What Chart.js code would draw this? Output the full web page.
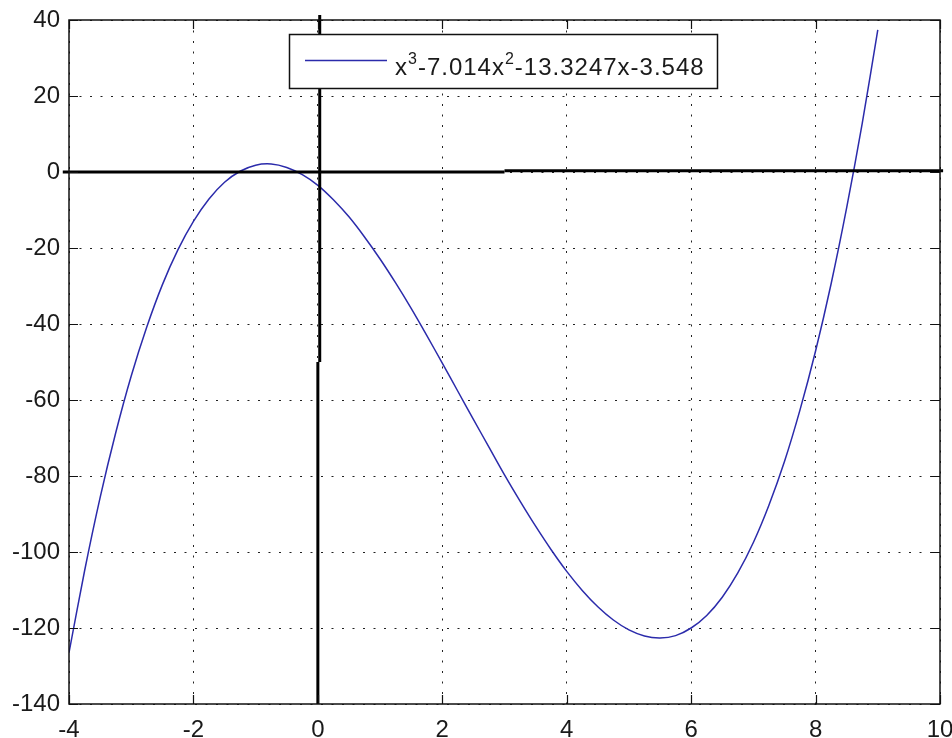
<!DOCTYPE html>
<html>
<head>
<meta charset="utf-8">
<title>x^3-7.014x^2-13.3247x-3.548</title>
<script src="https://cdn.jsdelivr.net/npm/chart.js@4/dist/chart.umd.min.js"></script>
<style>
    html, body { margin: 0; padding: 0; background: #fff; }
    canvas { display: block; }
</style>
</head>
<body>
<canvas id="polyChart" width="952" height="738"></canvas>
<script>
// 读图得到的曲线采样点
const xValues = [-4, -3.75, -3.5, -3.25, -3, -2.75, -2.5, -2.25, -2, -1.75, -1.5, -1.25, -1,
    -0.75, -0.5, -0.25, 0, 0.25, 0.5, 0.75, 1, 1.25, 1.5, 1.75, 2, 2.25, 2.5, 2.75, 3,
    3.25, 3.5, 3.75, 4, 4.25, 4.5, 4.75, 5, 5.25, 5.5, 5.75, 6, 6.25, 6.5, 6.75, 7,
    7.25, 7.5, 7.75, 8, 8.25, 8.5, 8.75, 9];
const yValues = [-126.5, -105.0, -85.7, -68.7, -53.7, -40.8, -29.7, -20.5, -13.0, -7.1, -2.7, 0.2, 1.8,
    2.1, 1.2, -0.7, -3.5, -7.3, -11.8, -17.1, -22.9, -29.2, -35.9, -43.0, -50.3, -57.7, -65.1, -72.4, -79.7,
    -86.6, -93.2, -99.4, -105.1, -110.1, -114.4, -117.9, -120.5, -122.1, -122.6, -122.0, -120.0, -116.7, -111.9, -105.5, -97.5,
    -87.7, -76.2, -62.6, -47.1, -29.4, -9.4, 12.8, 37.4];

// 坐标轴刻度
const xTicks = [-4, -2, 0, 2, 4, 6, 8, 10];
const yTicks = [-140, -120, -100, -80, -60, -40, -20, 0, 20, 40];

// 粗黑坐标线 (x=0, y=0)
const hAxisLeft = [{ x: -4.1, y: 0 }, { x: 3, y: 0 }];
const hAxisRight = [{ x: 3, y: 0.3 }, { x: 10.05, y: 0.3 }];
const vAxisUpper = [{ x: 0.03, y: -50 }, { x: 0.03, y: 41.3 }];
const vAxisLower = [{ x: 0, y: -140 }, { x: 0, y: -50 }];

const legendLabel = [
    { text: 'x', sup: false },
    { text: '3', sup: true },
    { text: '-7.014x', sup: false },
    { text: '2', sup: true },
    { text: '-13.3247x-3.548', sup: false }
];

const FONT = '"Liberation Sans", Arial, sans-serif';
const LINE_COLOR = '#2b2bab';

// 边框、内向刻度和图例
const frameAndLegend = {
    id: 'frameAndLegend',
    afterDraw(chart) {
        const ctx = chart.ctx;
        const a = chart.chartArea;
        const xs = chart.scales.x;
        const ys = chart.scales.y;
        ctx.save();
        ctx.strokeStyle = '#111';
        ctx.lineWidth = 1.5;
        ctx.setLineDash([]);
        ctx.strokeRect(a.left, a.top, a.right - a.left, a.bottom - a.top);

        ctx.lineWidth = 1.2;
        ctx.beginPath();
        xTicks.forEach(v => {
            const px = Math.round(xs.getPixelForValue(v)) + 0.5;
            ctx.moveTo(px, a.bottom); ctx.lineTo(px, a.bottom - 9);
            ctx.moveTo(px, a.top); ctx.lineTo(px, a.top + 9);
        });
        yTicks.forEach(v => {
            const py = Math.round(ys.getPixelForValue(v)) + 0.5;
            ctx.moveTo(a.left, py); ctx.lineTo(a.left + 9, py);
            ctx.moveTo(a.right, py); ctx.lineTo(a.right - 9, py);
        });
        ctx.stroke();

        // 图例框
        const bx = a.left + 220, by = a.top + 14, bw = 428, bh = 54;
        ctx.fillStyle = '#fff';
        ctx.fillRect(bx, by, bw, bh);
        ctx.strokeStyle = '#111';
        ctx.lineWidth = 1.5;
        ctx.strokeRect(bx + 0.5, by + 0.5, bw, bh);

        ctx.strokeStyle = LINE_COLOR;
        ctx.lineWidth = 1.5;
        ctx.beginPath();
        ctx.moveTo(bx + 16, by + 26.5);
        ctx.lineTo(bx + 98, by + 26.5);
        ctx.stroke();

        ctx.fillStyle = '#1a1a1a';
        ctx.textBaseline = 'alphabetic';
        ctx.textAlign = 'left';
        ctx.letterSpacing = '1px';
        let tx = bx + 106;
        const base = by + 41;
        legendLabel.forEach(part => {
            ctx.font = (part.sup ? '16px ' : '24px ') + FONT;
            const y = part.sup ? base - 11 : base;
            ctx.fillText(part.text, tx, y);
            tx += ctx.measureText(part.text).width;
        });
        ctx.restore();
    }
};

function initChart() {
    const el = document.getElementById('polyChart');
    if (!el || typeof Chart === 'undefined') {
        console.error('Chart.js 未加载');
        return;
    }

    const axisLine = (data) => ({
        data: data,
        borderColor: '#000',
        borderWidth: 3,
        pointRadius: 0,
        tension: 0,
        clip: false
    });

    new Chart(el.getContext('2d'), {
        type: 'line',
        data: {
            datasets: [
                axisLine(hAxisLeft),
                axisLine(hAxisRight),
                axisLine(vAxisUpper),
                axisLine(vAxisLower),
                {
                    label: 'x^3-7.014x^2-13.3247x-3.548',
                    data: xValues.map((x, i) => ({ x: x, y: yValues[i] })),
                    borderColor: LINE_COLOR,
                    borderWidth: 1.5,
                    pointRadius: 0,
                    tension: 0.3
                }
            ]
        },
        options: {
            responsive: false,
            animation: false,
            layout: { padding: { top: 20, right: 12, left: 0, bottom: 0 } },
            plugins: {
                legend: { display: false },
                tooltip: { enabled: false }
            },
            scales: {
                x: {
                    type: 'linear',
                    min: -4,
                    max: 10,
                    afterBuildTicks: (s) => { s.ticks = xTicks.map(v => ({ value: v })); },
                    afterFit: (s) => { s.height = 34; s.paddingLeft = 0; s.paddingRight = 0; },
                    grid: { color: '#222', lineWidth: 1, drawTicks: false },
                    border: { display: false, dash: [2, 8.5] },
                    ticks: {
                        padding: 12,
                        maxRotation: 0,
                        color: '#1a1a1a',
                        font: { family: FONT, size: 24 }
                    }
                },
                y: {
                    type: 'linear',
                    min: -140,
                    max: 40,
                    afterBuildTicks: (s) => { s.ticks = yTicks.map(v => ({ value: v })); },
                    afterFit: (s) => { s.width = 69; s.paddingTop = 0; s.paddingBottom = 0; },
                    grid: { color: '#222', lineWidth: 1, drawTicks: false },
                    border: { display: false, dash: [2, 8.5] },
                    ticks: {
                        padding: 9,
                        color: '#1a1a1a',
                        font: { family: FONT, size: 24 }
                    }
                }
            }
        },
        plugins: [frameAndLegend]
    });
}

if (document.readyState === 'loading') {
    document.addEventListener('DOMContentLoaded', initChart);
} else {
    initChart();
}
</script>
</body>
</html>
